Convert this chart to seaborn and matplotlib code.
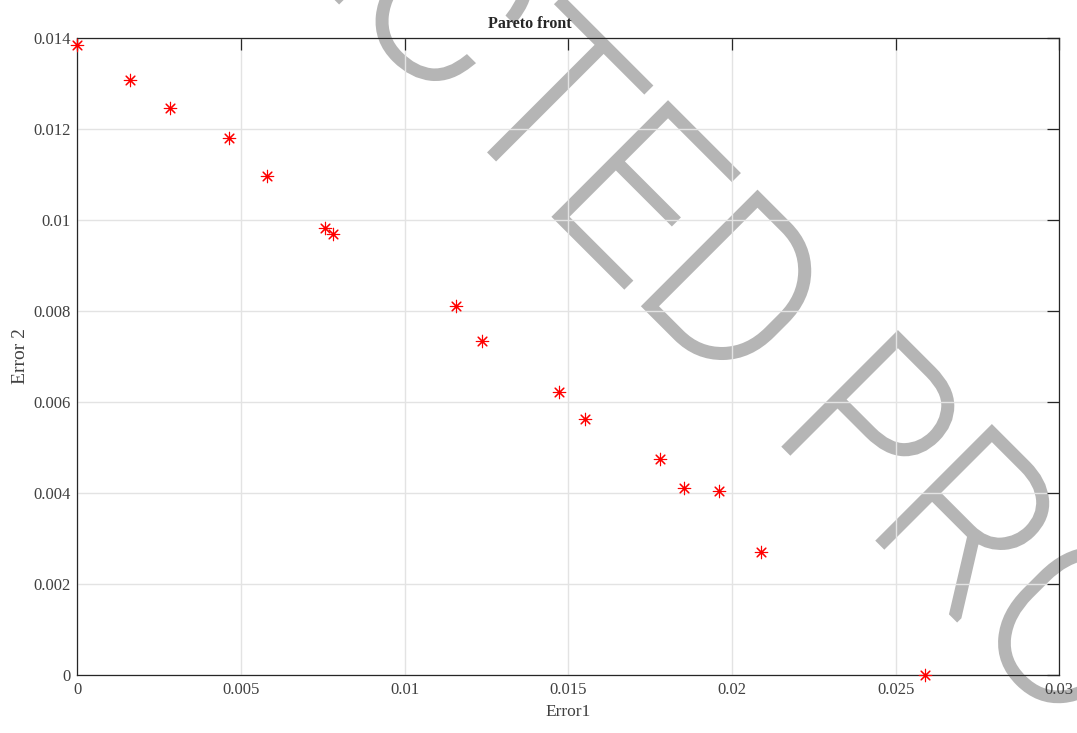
import pandas as pd
import matplotlib
matplotlib.use("Agg")
import matplotlib.pyplot as plt
import matplotlib.patheffects as pe
import seaborn as sns

# values
error1 = [0.0, 0.00162, 0.00282, 0.00464, 0.00580, 0.00757, 0.00780, 0.01158,
          0.01236, 0.01470, 0.01552, 0.01780, 0.01853, 0.01959, 0.02090, 0.02589]
error2 = [0.01385, 0.01307, 0.01245, 0.01179, 0.01097, 0.00983, 0.00969, 0.00811,
          0.00734, 0.00621, 0.00563, 0.00475, 0.00412, 0.00405, 0.00270, 0.0]

xticks = [0, 0.005, 0.01, 0.015, 0.02, 0.025, 0.03]
xtick_labels = ["0", "0.005", "0.01", "0.015", "0.02", "0.025", "0.03"]
yticks = [0, 0.002, 0.004, 0.006, 0.008, 0.01, 0.012, 0.014]
ytick_labels = ["0", "0.002", "0.004", "0.006", "0.008", "0.01", "0.012", "0.014"]

sns.set_style("white")
plt.rcParams["font.family"] = ["Liberation Serif", "DejaVu Serif"]
axis_color = "#262626"
wm_color = "#b5b5b5"

df = pd.DataFrame({"Error1": error1, "Error 2": error2})

fig = plt.figure(figsize=(10.77, 7.33), dpi=100)
ax = fig.add_axes([0.0718, 0.0787, 0.9118, 0.8699])

sns.scatterplot(data=df, x="Error1", y="Error 2", ax=ax, marker=(8, 2, 0),
                color="red", s=80, linewidth=0.8, clip_on=False, zorder=3)

ax.set_xlim(0, 0.03)
ax.set_ylim(0, 0.014)
ax.set_xticks(xticks)
ax.set_xticklabels(xtick_labels)
ax.set_yticks(yticks)
ax.set_yticklabels(ytick_labels)

ax.grid(True, color="#e3e3e3", linewidth=1.0)
ax.set_axisbelow(True)
for sp in ax.spines.values():
    sp.set_visible(True)
    sp.set_color(axis_color)
    sp.set_linewidth(0.9)
ax.tick_params(direction="in", length=8.5, width=0.9, colors=axis_color,
               labelsize=12, top=True, right=True, pad=5)
for lab in ax.get_xticklabels() + ax.get_yticklabels():
    lab.set_color("#404040")

ax.set_xlabel("Error1", fontsize=12.5, color="#404040", labelpad=4)
ax.set_ylabel("Error 2", fontsize=14, color="#404040", labelpad=3)
ax.set_title("Pareto front", fontsize=11.5, fontweight="bold", x=0.461, pad=7)

# watermark across the picture, kept under the title
fig.text(0.4155, 0.8527, "UNCORRECTED PROOF", family=["Roboto", "DejaVu Sans"],
         fontweight="light", fontsize=160, color=wm_color, zorder=0.5,
         rotation=-45, rotation_mode="anchor", ha="center", va="baseline",
         path_effects=[pe.Stroke(linewidth=5, foreground=wm_color, joinstyle="miter"),
                       pe.Normal()])
ax.set_zorder(1)
ax.patch.set_alpha(0)

fig.savefig("out.png", dpi=100)
